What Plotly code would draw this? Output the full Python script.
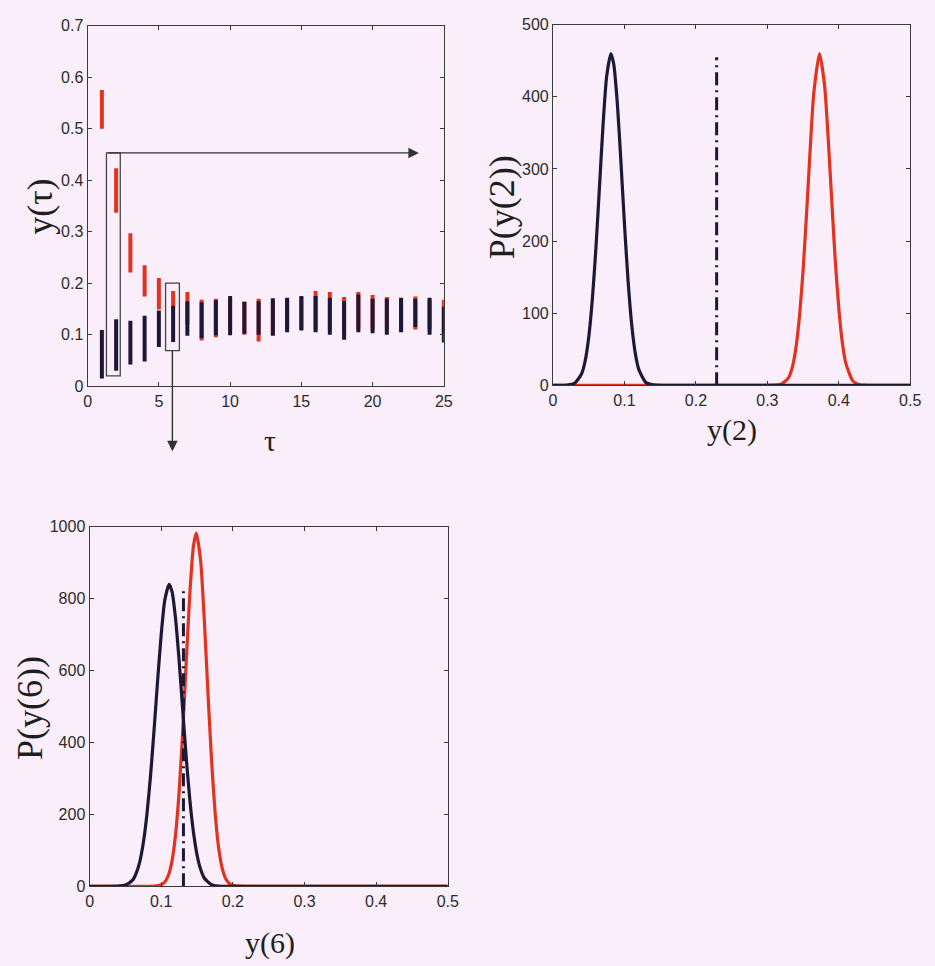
import plotly.graph_objects as go

# ---- panel 1: spread of y(tau) for each tau ----
tau = list(range(1, 26))
red_lo = [0.50, 0.337, 0.221, 0.174, 0.149, 0.150, 0.12, 0.089, 0.095, 0.11, 0.10, 0.087, 0.10,
          0.11, 0.11, 0.11, 0.11, 0.10, 0.11, 0.11, 0.11, 0.11, 0.11, 0.11, 0.10]
red_hi = [0.575, 0.423, 0.297, 0.235, 0.21, 0.185, 0.183, 0.168, 0.17, 0.172, 0.164, 0.17, 0.167,
          0.17, 0.173, 0.185, 0.183, 0.173, 0.183, 0.177, 0.173, 0.17, 0.174, 0.168, 0.168]
blk_lo = [0.015, 0.030, 0.042, 0.048, 0.076, 0.086, 0.098, 0.093, 0.099, 0.099, 0.102, 0.10, 0.098,
          0.105, 0.108, 0.105, 0.10, 0.09, 0.105, 0.103, 0.10, 0.105, 0.115, 0.10, 0.085]
blk_hi = [0.109, 0.13, 0.127, 0.137, 0.147, 0.156, 0.165, 0.163, 0.167, 0.175, 0.164, 0.165, 0.171,
          0.172, 0.175, 0.175, 0.172, 0.165, 0.178, 0.17, 0.17, 0.172, 0.17, 0.172, 0.155]

# ---- panel 2: distributions of y(2) ----
x2_blk = [0.0, 0.02, 0.03, 0.04, 0.045, 0.05, 0.055, 0.06, 0.065, 0.07, 0.075, 0.081, 0.085, 0.09,
          0.095, 0.10, 0.105, 0.11, 0.115, 0.12, 0.13, 0.14, 0.16, 0.5]
p2_blk = [0, 0.3, 2.5, 16, 34, 67, 119, 190, 275, 361, 428, 460, 445, 391,
          310, 223, 145, 85, 45, 22, 3.7, 0.4, 0, 0]
x2_red = [0.0, 0.29, 0.31, 0.32, 0.33, 0.335, 0.34, 0.345, 0.35, 0.355, 0.36, 0.365, 0.373, 0.38,
          0.385, 0.39, 0.395, 0.40, 0.405, 0.41, 0.42, 0.43, 0.44, 0.5]
p2_red = [0, 0, 0.2, 1.7, 11, 25, 52, 96, 159, 240, 328, 405, 460, 417,
          345, 258, 174, 107, 59, 30, 5.5, 0.7, 0, 0]
thr2 = 0.229
thr2_top = 455

# ---- panel 3: distributions of y(6) ----
x6_blk = [0.0, 0.04, 0.05, 0.06, 0.065, 0.07, 0.075, 0.08, 0.085, 0.09, 0.095, 0.10, 0.105, 0.111,
          0.115, 0.12, 0.125, 0.13, 0.135, 0.14, 0.145, 0.15, 0.155, 0.16, 0.17, 0.18, 0.2, 0.5]
p6_blk = [0, 0.2, 3.3, 17, 36, 68, 121, 200, 306, 435, 573, 701, 796, 840,
          820, 744, 627, 490, 355, 239, 150, 87, 47, 23, 4.6, 0.7, 0, 0]
x6_red = [0.0, 0.08, 0.09, 0.10, 0.105, 0.11, 0.115, 0.12, 0.125, 0.13, 0.135, 0.14, 0.145, 0.149,
          0.155, 0.16, 0.165, 0.17, 0.175, 0.18, 0.185, 0.19, 0.195, 0.20, 0.21, 0.22, 0.5]
p6_red = [0, 0, 0.4, 4.1, 11.8, 30.5, 70, 144, 264, 431, 628, 816, 947, 982,
          905, 745, 547, 359, 210, 109, 51, 21, 7.8, 2.6, 0.2, 0, 0]
thr6 = 0.131
thr6_top = 830

BG = "#f9eef9"
RED = "#e2331f"
DARK = "#1c1836"
AXC = "#3a3a3a"

W, H = 935, 966


def px_x(v):
    return v / W


def px_y(v):
    return 1 - v / H


fig = go.Figure()


def segments(xs, lo, hi):
    sx, sy = [], []
    for t, a, b in zip(xs, lo, hi):
        sx += [t, t, None]
        sy += [a, b, None]
    return sx, sy


rx, ry = segments(tau, red_lo, red_hi)
bx, by = segments(tau, blk_lo, blk_hi)
fig.add_trace(go.Scatter(x=rx, y=ry, mode="lines", line=dict(color=RED, width=4),
                         xaxis="x", yaxis="y", showlegend=False))
fig.add_trace(go.Scatter(x=bx, y=by, mode="lines", line=dict(color=DARK, width=4),
                         xaxis="x", yaxis="y", showlegend=False))

# panel 2 curves (red underneath, dark on top)
fig.add_trace(go.Scatter(x=x2_red, y=p2_red, mode="lines", line=dict(color=RED, width=3.2, shape="spline", smoothing=0.6),
                         xaxis="x2", yaxis="y2", showlegend=False))
fig.add_trace(go.Scatter(x=x2_blk, y=p2_blk, mode="lines", line=dict(color=DARK, width=3.2, shape="spline", smoothing=0.6),
                         xaxis="x2", yaxis="y2", showlegend=False))
fig.add_trace(go.Scatter(x=[thr2, thr2], y=[0, thr2_top], mode="lines",
                         line=dict(color=DARK, width=3, dash="13px,5px,2px,5px"),
                         xaxis="x2", yaxis="y2", showlegend=False))

# panel 3 curves
fig.add_trace(go.Scatter(x=x6_red, y=p6_red, mode="lines", line=dict(color=RED, width=3.2, shape="spline", smoothing=0.6),
                         xaxis="x3", yaxis="y3", showlegend=False))
fig.add_trace(go.Scatter(x=x6_blk, y=p6_blk, mode="lines", line=dict(color=DARK, width=3.2, shape="spline", smoothing=0.6),
                         xaxis="x3", yaxis="y3", showlegend=False))
fig.add_trace(go.Scatter(x=[thr6, thr6], y=[0, thr6_top], mode="lines",
                         line=dict(color=DARK, width=3, dash="13px,5px,2px,5px"),
                         xaxis="x3", yaxis="y3", showlegend=False))

tickfont = dict(family="Liberation Sans, Arial, sans-serif", size=16, color="#2b2b2b")


def axis(dom, rng, dtick, anchor):
    return dict(domain=dom, range=rng, dtick=dtick, tick0=0, anchor=anchor,
                showline=True, linecolor=AXC, linewidth=1.2, mirror="allticks",
                ticks="inside", ticklen=4, tickcolor=AXC, tickwidth=1,
                showgrid=False, zeroline=False, tickfont=tickfont)


fig.update_layout(
    width=W, height=H, margin=dict(l=0, r=0, t=0, b=0),
    paper_bgcolor=BG, plot_bgcolor=BG,
    xaxis=axis([px_x(85), px_x(447)], [0, 25], 5, "y"),
    yaxis=axis([px_y(385), px_y(18)], [0, 0.7], 0.1, "x"),
    xaxis2=axis([px_x(558), px_x(921)], [0, 0.5], 0.1, "y2"),
    yaxis2=axis([px_y(384), px_y(17)], [0, 500], 100, "x2"),
    xaxis3=axis([px_x(87), px_x(451)], [0, 0.5], 0.1, "y3"),
    yaxis3=axis([px_y(894), px_y(528)], [0, 1000], 200, "x3"),
)
fig.update_yaxes(tickformat="~g")

# highlight boxes around tau = 2 and tau = 6
fig.add_shape(type="rect", xref="x", yref="y", x0=1.32, x1=2.29, y0=0.02, y1=0.453,
              line=dict(color="#444", width=1.3))
fig.add_shape(type="rect", xref="x", yref="y", x0=5.47, x1=6.44, y0=0.069, y1=0.2,
              line=dict(color="#444", width=1.3))

# arrows pointing to the two distribution panels
fig.add_annotation(x=23.25, y=0.453, ax=1.32, ay=0.453, xref="x", yref="y", axref="x", ayref="y",
                   text="", showarrow=True, arrowhead=2, arrowsize=1.5, arrowwidth=1.4,
                   arrowcolor="#333", standoff=0, startstandoff=0)
fig.add_annotation(x=5.95, y=0.069, xref="x", yref="y", ax=0, ay=102,
                   text="", showarrow=True, arrowside="start", startarrowhead=2, startarrowsize=1.5,
                   arrowwidth=1.4, arrowcolor="#333", standoff=0, startstandoff=0)

serif = "Liberation Serif, Times New Roman, serif"
titles = [
    ("τ", 270, 440, 0, 30),
    ("y(τ)", 37, 202, -90, 36),
    ("y(2)", 740, 430, 0, 30),
    ("P(y(2))", 507, 203, -90, 36),
    ("y(6)", 270, 952, 0, 30),
    ("P(y(6))", 27, 713, -90, 36),
]
for txt, cx, cy, ang, sz in titles:
    fig.add_annotation(x=px_x(cx), y=px_y(cy), xref="paper", yref="paper", text=txt,
                       showarrow=False, textangle=ang, xanchor="center", yanchor="middle",
                       font=dict(family=serif, size=sz, color="#1e1e1e"))

fig.write_html("out.html")
